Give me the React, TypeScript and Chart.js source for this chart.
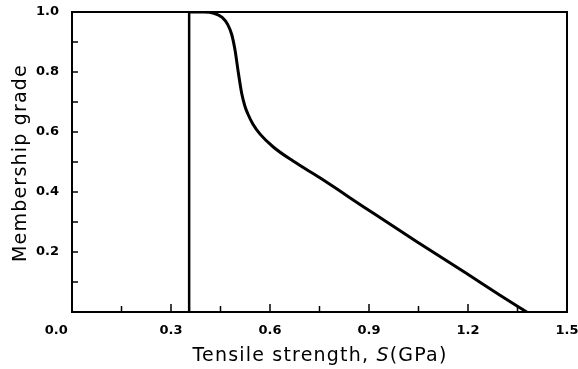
import React, { useEffect, useRef } from "react";
import { Chart, registerables } from "chart.js";

Chart.register(...registerables);

// Data
const xMin = 0;
const xMax = 1.5;
const yMin = 0;
const yMax = 1.0;
const xStep = 0.15;
const yStep = 0.1;

const cutX = [0.355, 0.355];
const cutY = [0, 1.0];

const curveX = [0.355, 0.40, 0.43, 0.455, 0.472, 0.484, 0.494, 0.504, 0.514, 0.524, 0.533, 0.548, 0.57, 0.61, 0.67, 0.75, 0.89, 1.045, 1.196, 1.297, 1.378];
const curveY = [1.0, 1.0, 0.996, 0.982, 0.958, 0.925, 0.873, 0.798, 0.73, 0.686, 0.66, 0.627, 0.593, 0.55, 0.503, 0.448, 0.346, 0.234, 0.128, 0.056, 0.0];

const xTitleA = "Tensile strength, ";
const xTitleS = "S";
const xTitleB = "(GPa)";
const yTitle = "Membership grade";

const TITLE_FONT = '"DejaVu Sans", sans-serif';
const TICK_FONT = { family: '"DejaVu Sans", sans-serif', size: 13, weight: "bold" as const };

const framePlugin = {
  id: "frame",
  afterDraw(chart: any) {
    const { ctx, chartArea: a, scales } = chart;
    ctx.save();
    ctx.strokeStyle = "#000";
    ctx.lineWidth = 2;
    ctx.strokeRect(a.left, a.top, a.right - a.left, a.bottom - a.top);
    ctx.lineWidth = 1.5;
    const xs = scales.x;
    xs.ticks.forEach((t: any) => {
      const px = xs.getPixelForValue(t.value);
      if (px <= a.left + 1 || px >= a.right - 1) return;
      const major = Math.round(t.value / xStep) % 2 === 0;
      const len = major ? 8 : 6;
      ctx.beginPath();
      ctx.moveTo(px, a.bottom);
      ctx.lineTo(px, a.bottom - len);
      ctx.stroke();
    });
    const ys = scales.y;
    ys.ticks.forEach((t: any) => {
      const py = ys.getPixelForValue(t.value);
      if (py <= a.top + 1 || py >= a.bottom - 1) return;
      ctx.beginPath();
      ctx.moveTo(a.left, py);
      ctx.lineTo(a.left + 6, py);
      ctx.stroke();
    });
    // axis titles
    ctx.fillStyle = "#000";
    ctx.textBaseline = "alphabetic";
    (ctx as any).letterSpacing = "1.2px";
    const normal = "19px " + TITLE_FONT;
    const italic = "italic 19px " + TITLE_FONT;
    ctx.font = normal;
    const wA = ctx.measureText(xTitleA).width;
    const wB = ctx.measureText(xTitleB).width;
    ctx.font = italic;
    const wS = ctx.measureText(xTitleS).width;
    const total = wA + wS + wB;
    const x0 = 320 - total / 2;
    const by = 361;
    ctx.textAlign = "left";
    ctx.font = normal;
    ctx.fillText(xTitleA, x0, by);
    ctx.font = italic;
    ctx.fillText(xTitleS, x0 + wA, by);
    ctx.font = normal;
    ctx.fillText(xTitleB, x0 + wA + wS, by);

    ctx.font = normal;
    const wY = ctx.measureText(yTitle).width;
    ctx.translate(26, 163);
    ctx.rotate(-Math.PI / 2);
    ctx.textAlign = "left";
    ctx.fillText(yTitle, -wY / 2, 0);
    ctx.restore();
  },
};

export default function App() {
  const ref = useRef<HTMLCanvasElement | null>(null);
  useEffect(() => {
    document.body.style.margin = "0";
    const canvas = ref.current;
    if (!canvas) return;
    const chart = new Chart(canvas, {
      type: "line",
      data: {
        datasets: [
          {
            data: cutX.map((x, i) => ({ x, y: cutY[i] })),
            borderColor: "#000",
            borderWidth: 2.5,
            pointRadius: 0,
            tension: 0,
          },
          {
            data: curveX.map((x, i) => ({ x, y: curveY[i] })),
            borderColor: "#000",
            borderWidth: 3,
            pointRadius: 0,
            cubicInterpolationMode: "monotone",
          },
        ],
      },
      options: {
        animation: false,
        responsive: true,
        maintainAspectRatio: false,
        layout: { padding: { top: 12, right: 11, left: 0, bottom: 0 } },
        plugins: { legend: { display: false }, tooltip: { enabled: false } },
        scales: {
          x: {
            type: "linear",
            min: xMin,
            max: xMax,
            grid: { display: false },
            border: { display: false },
            afterFit: (s: any) => {
              s.height = 57;
              s.paddingRight = 0;
              s.paddingLeft = 0;
            },
            ticks: {
              stepSize: xStep,
              autoSkip: false,
              maxRotation: 0,
              padding: 3,
              color: "#000",
              font: TICK_FONT,
              callback: (v: any) => {
                const n = Math.round(Number(v) / xStep);
                if (n % 2 !== 0) return "";
                if (n === 0) return "0.0       ";
                return Number(v).toFixed(1);
              },
            },
          },
          y: {
            type: "linear",
            min: yMin,
            max: yMax,
            grid: { display: false },
            border: { display: false },
            afterFit: (s: any) => {
              s.width = 72;
              s.paddingTop = 0;
              s.paddingBottom = 0;
            },
            ticks: {
              stepSize: yStep,
              autoSkip: false,
              padding: 5,
              color: "#000",
              font: TICK_FONT,
              callback: (v: any) => {
                const n = Math.round(Number(v) / yStep);
                if (n % 2 !== 0 || n === 0) return "";
                return Number(v).toFixed(1);
              },
            },
          },
        },
      },
      plugins: [framePlugin],
    });
    return () => chart.destroy();
  }, []);
  return (
    <div style={{ width: 578, height: 369, position: "relative" }}>
      <canvas ref={ref} />
    </div>
  );
}
